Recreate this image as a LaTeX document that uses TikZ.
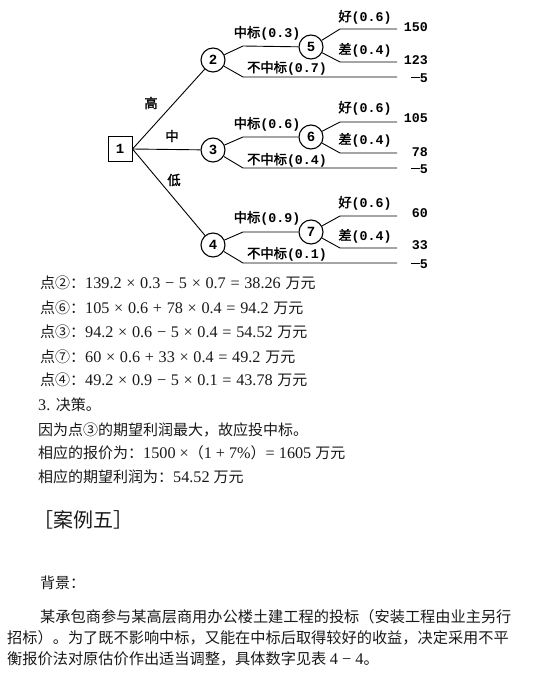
\documentclass[tikz,border=0pt]{standalone}
\usepackage{fontspec}
\setmainfont{Liberation Serif}[Scale=1.08]
\newfontfamily\cjk{Noto Sans CJK SC}
\newfontfamily\cjkb{Noto Sans CJK SC}[FakeBold=1.8]
\newfontfamily\tnum{Liberation Mono}
\newcommand\brl[2]{{\cjkb #1}{\tnum\bfseries(#2)}}
\newcommand\eqsp{\spaceskip=4.7pt plus 1pt\relax}
\begin{document}
\begin{tikzpicture}[x=1pt,y=-1pt,
  edge/.style={line width=0.9pt},
  circ/.style={circle,draw,line width=1.1pt,minimum size=24pt,inner sep=0pt,font=\tnum\bfseries\fontsize{14}{14}\selectfont},
  sq/.style={rectangle,draw,line width=1pt,minimum width=24pt,minimum height=25pt,inner sep=0pt,font=\tnum\bfseries\fontsize{14}{14}\selectfont},
  lab/.style={inner sep=0pt,font=\fontsize{13.3}{13}\selectfont},
  val/.style={inner sep=0pt,anchor=east,font=\tnum\bfseries\fontsize{13.3}{13}\selectfont},
  txt/.style={anchor=west,inner sep=0pt,text=black!90,font=\fontsize{15}{18}\selectfont},
  eq/.style={txt,execute at begin node=\eqsp},
  para/.style={txt,font=\fontsize{15.2}{18}\selectfont}]
\useasboundingbox (0,0) rectangle (543,682);
% decision tree nodes
\node[sq] (n1) at (120,149) {1};
\node[circ] (n2) at (213,60) {2};
\node[circ] (n3) at (213,150) {3};
\node[circ] (n4) at (213,245) {4};
\node[circ] (n5) at (311,47) {5};
\node[circ] (n6) at (311,137) {6};
\node[circ] (n7) at (311,232) {7};
% bend and end coordinates
\coordinate (b2u) at (243,46);  \coordinate (b2l) at (243,77);  \coordinate (e2l) at (397,77);
\coordinate (b3u) at (243,137); \coordinate (b3l) at (243,168); \coordinate (e3l) at (397,168);
\coordinate (b4u) at (243,232); \coordinate (b4l) at (243,263); \coordinate (e4l) at (397,263);
\coordinate (b5u) at (340,29);  \coordinate (e5u) at (397,29);
\coordinate (b5l) at (340,62);  \coordinate (e5l) at (397,62);
\coordinate (b6u) at (340,122); \coordinate (e6u) at (397,122);
\coordinate (b6l) at (340,153); \coordinate (e6l) at (397,153);
\coordinate (b7u) at (340,216); \coordinate (e7u) at (397,216);
\coordinate (b7l) at (340,248); \coordinate (e7l) at (397,248);
% connectors
\draw[edge] (n1.east) -- (n2);
\draw[edge] (n1.east) -- (n3);
\draw[edge] (n1.east) -- (n4);
\draw[edge] (n2) -- (b2u) -- (n5);
\draw[edge] (n2) -- (b2l) -- (e2l);
\draw[edge] (n3) -- (b3u) -- (n6);
\draw[edge] (n3) -- (b3l) -- (e3l);
\draw[edge] (n4) -- (b4u) -- (n7);
\draw[edge] (n4) -- (b4l) -- (e4l);
\draw[edge] (n5) -- (b5u) -- (e5u);
\draw[edge] (n5) -- (b5l) -- (e5l);
\draw[edge] (n6) -- (b6u) -- (e6u);
\draw[edge] (n6) -- (b6l) -- (e6l);
\draw[edge] (n7) -- (b7u) -- (e7u);
\draw[edge] (n7) -- (b7l) -- (e7l);
% branch labels
\node[lab] (lg) at (151,103) {\cjkb 高};
\node[lab] (lm) at (172,136) {\cjkb 中};
\node[lab] (ld) at (174,180) {\cjkb 低};
\node[lab] (l2u) at (267,33) {\brl{中标}{0.3}};
\node[lab] (l2l) at (287,68) {\brl{不中标}{0.7}};
\node[lab] (l5u) at (365,17) {\brl{好}{0.6}};
\node[lab] (l5l) at (365,50) {\brl{差}{0.4}};
\node[lab] (l3u) at (267,124) {\brl{中标}{0.6}};
\node[lab] (l3l) at (287,160) {\brl{不中标}{0.4}};
\node[lab] (l6u) at (365,108) {\brl{好}{0.6}};
\node[lab] (l6l) at (365,140) {\brl{差}{0.4}};
\node[lab] (l4u) at (267,218) {\brl{中标}{0.9}};
\node[lab] (l4l) at (287,254) {\brl{不中标}{0.1}};
\node[lab] (l7u) at (365,203) {\brl{好}{0.6}};
\node[lab] (l7l) at (365,236) {\brl{差}{0.4}};
% terminal values
\node[val] (v1) at (428,27) {150};
\node[val] (v2) at (428,60) {123};
\node[val] (v3) at (428,78) {\rule[0.3em]{9pt}{1.2pt}5};
\node[val] (v4) at (428,118) {105};
\node[val] (v5) at (428,152) {78};
\node[val] (v6) at (428,169) {\rule[0.3em]{9pt}{1.2pt}5};
\node[val] (v7) at (428,213) {60};
\node[val] (v8) at (428,245) {33};
\node[val] (v9) at (428,264) {\rule[0.3em]{9pt}{1.2pt}5};
% text below
\node[eq] (t1) at (40,283) {{\cjk 点②：}139.2 × 0.3 − 5 × 0.7 = 38.26 {\cjk 万元}};
\node[eq] (t2) at (40,308) {{\cjk 点⑥：}105 × 0.6 + 78 × 0.4 = 94.2 {\cjk 万元}};
\node[eq] (t3) at (40,332) {{\cjk 点③：}94.2 × 0.6 − 5 × 0.4 = 54.52 {\cjk 万元}};
\node[eq] (t4) at (40,357) {{\cjk 点⑦：}60 × 0.6 + 33 × 0.4 = 49.2 {\cjk 万元}};
\node[eq] (t5) at (40,380) {{\cjk 点④：}49.2 × 0.9 − 5 × 0.1 = 43.78 {\cjk 万元}};
\node[txt] (t6) at (38,405) {3. {\cjk 决策。}};
\node[txt] (t7) at (38,430) {\cjk 因为点③的期望利润最大，故应投中标。};
\node[txt] (t8) at (38,453) {{\cjk 相应的报价为：}1500 ×{\cjk （}1 + 7\%{\cjk ）}= 1605 {\cjk 万元}};
\node[txt] (t9) at (38,477) {{\cjk 相应的期望利润为：}54.52 {\cjk 万元}};
\node[txt,font=\fontsize{20}{22}\selectfont] (t10) at (33,520) {\cjk ［案例五］};
\node[txt] (t11) at (40,583) {\cjk 背景：};
\node[para] (t12) at (40,617) {\cjk 某承包商参与某高层商用办公楼土建工程的投标（安装工程由业主另行};
\node[para] (t13) at (7,638) {\cjk 招标）。为了既不影响中标，又能在中标后取得较好的收益，决定采用不平};
\node[para] (t14) at (7,659) {{\cjk 衡报价法对原估价作出适当调整，具体数字见表 }4 − 4{\cjk 。}};
\end{tikzpicture}
\end{document}
